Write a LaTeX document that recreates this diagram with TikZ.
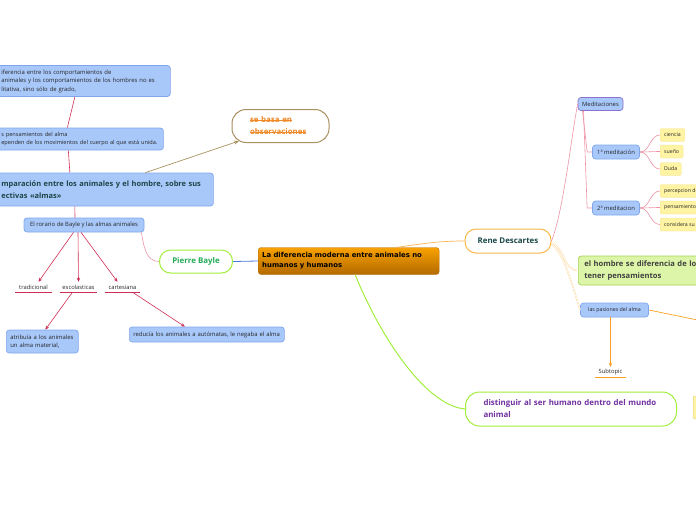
\documentclass[tikz,border=0pt]{standalone}
\usepackage{fontspec}
\setmainfont{Open Sans}
\newfontfamily\hubfont{DejaVu Sans}
\usetikzlibrary{positioning,arrows.meta,shapes.misc}
\definecolor{TopicBlue}{HTML}{A8C8FA}
\definecolor{TopicLine}{HTML}{7FA6EC}
\definecolor{Crimson}{HTML}{CF2F55}
\definecolor{SoftPink}{HTML}{EC93A5}
\definecolor{HubTop}{HTML}{F8A100}
\definecolor{HubBot}{HTML}{B36A00}
\definecolor{Lime}{HTML}{A2EE3C}
\definecolor{LeafGreen}{HTML}{22AA55}
\definecolor{DeepTeal}{HTML}{1B4747}
\definecolor{Amber}{HTML}{F8B848}
\definecolor{Bronze}{HTML}{A89060}
\definecolor{Tangerine}{HTML}{F08A28}
\definecolor{NoteYellow}{HTML}{FFF4A3}
\definecolor{NoteLine}{HTML}{F4E490}
\definecolor{PaleGreen}{HTML}{DDF5A8}
\definecolor{PaleGreenLine}{HTML}{A4D454}
\definecolor{Plum}{HTML}{7030A0}
\definecolor{Lilac}{HTML}{8F72CF}
\definecolor{BayleBlue}{HTML}{4A78DC}
\definecolor{Carrot}{HTML}{F8A020}
\newsavebox\strikebox
\newcommand{\crossout}[1]{\leavevmode\sbox\strikebox{#1}\rlap{\raisebox{0.28em}{\rule{\wd\strikebox}{0.5pt}}}\usebox\strikebox}

\begin{document}
\begin{tikzpicture}[x=1pt, y=-1pt,
  topic/.style={draw=TopicLine, fill=TopicBlue, rounded corners=3pt, line width=0.7pt, align=left, inner xsep=4pt, inner ysep=1pt, font=\fontsize{5.9}{8.5}\selectfont, text=black!85},
  tag/.style={inner sep=0pt, minimum height=10pt, font=\fontsize{5.8}{7}\selectfont, text=black!85},
  note/.style={draw=NoteLine, fill=NoteYellow, rounded corners=2pt, anchor=west, inner xsep=4pt, minimum height=13pt, font=\fontsize{5.2}{6}\selectfont, text=black!85},
  pill/.style={fill=white, line width=1pt, rounded corners=11pt, font=\fontsize{7.9}{12}\selectfont\bfseries},
  hub/.style={draw=HubBot, top color=HubTop, bottom color=HubBot, rounded corners=3pt, align=left, inner xsep=4pt, font=\hubfont\bfseries\fontsize{6.9}{10}\selectfont},
  link/.style={draw=Crimson, line width=0.6pt},
  jab/.style={link, -{Stealth[length=4pt, width=3.5pt]}},
  twig/.style={draw=SoftPink, line width=0.6pt},
  fork/.style={draw=Amber!60, line width=0.35pt, double=white, double distance=0.7pt},
  glow/.style={draw=Carrot, line width=0.7pt}]
\useasboundingbox (0,0) rectangle (696,520);
\clip (0,0) rectangle (696,520);

% left branch
\node[topic, anchor=west, text width=165pt, minimum height=31pt] (diff) at (-3,81) {iferencia entre los comportamientos de\\animales y los comportamientos de los hombres no es\\litativa, sino sólo de grado,};
\node[topic, anchor=west, text width=158pt, minimum height=22pt, font=\fontsize{5.6}{8.5}\selectfont] (alma) at (-3,139) {s pensamientos del alma\\ependen de los movimientos del cuerpo al que está unida.};
\node[topic, anchor=west, text width=208pt, minimum height=33pt, font=\fontsize{7.45}{12}\selectfont\bfseries, text=DeepTeal] (comp) at (-3,189.5) {mparación entre los animales y el hombre, sobre sus\\ectivas «almas»};
\node[topic, minimum width=120pt, minimum height=14pt] (rorario) at (84,225) {El rorario de Bayle y las almas animales};
\node[tag, minimum width=36pt] (trad) at (33.5,287) {tradicional};
\node[tag, minimum width=37pt] (esco) at (78.5,287) {escolasticas};
\node[tag, minimum width=34pt] (cart) at (122.5,287) {cartesiana};
\foreach \n in {trad,esco,cart}
  \draw[link, line width=1pt] (\n.south west) -- (\n.south east);
\node[topic, anchor=west, text width=64pt, minimum height=23pt] (atrib) at (6,341.5) {atribuía a los animales\\un alma material,};
\node[topic, anchor=west, text width=147pt, minimum height=15pt] (reduce) at (129,334.5) {reducía los animales a autómatas, le negaba el alma};
\node[pill, draw=Bronze, minimum width=97pt, minimum height=33pt, rounded corners=14pt, align=left, text width=61pt, inner xsep=18pt, text=Tangerine] (obs) at (280.5,126) {\crossout{se basa en}\\\crossout{observaciones}};
\node[pill, draw=Lime, minimum width=73pt, minimum height=23pt, text=LeafGreen] (bayle) at (196,261.5) {Pierre Bayle};

\draw[link] ([xshift=-9]diff.south) -- ([xshift=-13]alma.north);
\draw[link] ([xshift=-12]alma.south) -- ([xshift=-35.5]comp.north);
\draw[link] ([xshift=-30.5]comp.south) -- ([xshift=-9]rorario.north);
\draw[jab] ([xshift=-10.5]rorario.south) -- ([xshift=5]trad.north);
\draw[jab] ([xshift=-6]rorario.south) -- (esco.north);
\draw[jab] ([xshift=-3]rorario.south) -- ([xshift=-5]cart.north);
\draw[jab] ([xshift=-6]esco.south) -- ([xshift=3]atrib.north);
\draw[jab] ([xshift=10]cart.south) -- ([xshift=-22]reduce.north);
\draw[draw=Bronze, line width=0.7pt, -{Stealth[length=5pt, width=4pt]}] ([xshift=40]comp.north) -- ([xshift=-41.5, yshift=2]obs.south);
\draw[twig] ([xshift=-3]rorario.south east) to[out=-80, in=180] (bayle.west);

% central topic
\node[hub, anchor=west, text width=173pt, minimum height=27pt] (hub) at (258,261) {La diferencia moderna entre animales no\\humanos y humanos};
\draw[draw=BayleBlue, line width=0.8pt] (bayle.east) -- (hub.west);

% Descartes branch
\node[pill, draw=Amber, minimum width=86pt, minimum height=24pt, text=DeepTeal] (rene) at (508,241) {Rene Descartes};
\node[topic, draw=Lilac, minimum width=45pt, minimum height=13pt] (medit) at (600.5,104) {Meditaciones};
\node[topic, minimum width=47pt, minimum height=14pt] (med1) at (616,152) {1ª meditación};
\node[topic, minimum width=47pt, minimum height=14pt] (med2) at (616,208) {2ª meditacion};
\node[note] (ciencia) at (660,135) {ciencia};
\node[note] (sueno) at (660,151.5) {sueño};
\node[note] (duda) at (660,169) {Duda};
\node[note] (percep) at (660,191) {percepcion de};
\node[note] (pensam) at (660,207.5) {pensamiento};
\node[note] (consid) at (660,224.5) {considera su};
\node[topic, anchor=west, text width=140pt, minimum height=29pt, inner xsep=6pt, fill=PaleGreen, draw=PaleGreenLine, font=\fontsize{7.6}{12}\selectfont\bfseries, text=black!75] (hombre) at (578,270.5) {el hombre se diferencia de los\\tener pensamientos};
\node[topic, minimum width=68pt, minimum height=14pt, font=\fontsize{5.3}{6}\selectfont] (pasion) at (614.5,310) {las pasiones del alma};
\node[tag, minimum width=31pt] (subt) at (610.5,372) {Subtopic};
\draw[glow, line width=1pt] (subt.south west) -- (subt.south east);
\node[draw=NoteLine, fill=NoteYellow, anchor=west, minimum width=30pt, minimum height=22pt] (cut) at (693,407) {};
\coordinate (offright) at (700,320.5);

\draw[draw=Carrot!80, line width=0.7pt] ([xshift=48.5]hub.north) to[out=8, in=180] (rene.west);
\draw[twig] (rene.east) .. controls +(12,-30) and +(-6,30) .. (medit.west);
\draw[twig] ([xshift=-18]medit.south) -- ([xshift=-5]med1.west) -- (med1.west);
\draw[twig] ([xshift=-17]medit.south) -- ([xshift=-5]med2.west) -- (med2.west);
\foreach \n in {ciencia,sueno,duda}
  \draw[twig] (med1.east) to[out=0, in=180] (\n.west);
\foreach \n in {percep,pensam,consid}
  \draw[twig] (med2.east) to[out=0, in=180] (\n.west);
\draw[fork] ([yshift=-2]rene.east) to[out=-20, in=180] (hombre.west);
\draw[fork] ([yshift=-3]rene.east) .. controls +(12,8) and +(-8,-25) .. (pasion.west);
\draw[glow] (pasion.east) -- (offright);
\draw[glow, -{Stealth[length=4pt, width=3.5pt]}] ([xshift=-4]pasion.south) -- (subt.north);

% lower branch
\node[pill, draw=Lime, anchor=west, text width=175pt, minimum height=34pt, inner xsep=18pt, align=left, rounded corners=14pt, text=Plum] (disting) at (465,409) {distinguir al ser humano dentro del mundo\\animal};
\draw[draw=Lime, line width=1pt] ([xshift=6.5]hub.south) .. controls +(22,55) and +(-42,-4) .. (disting.west);
\end{tikzpicture}
\end{document}
